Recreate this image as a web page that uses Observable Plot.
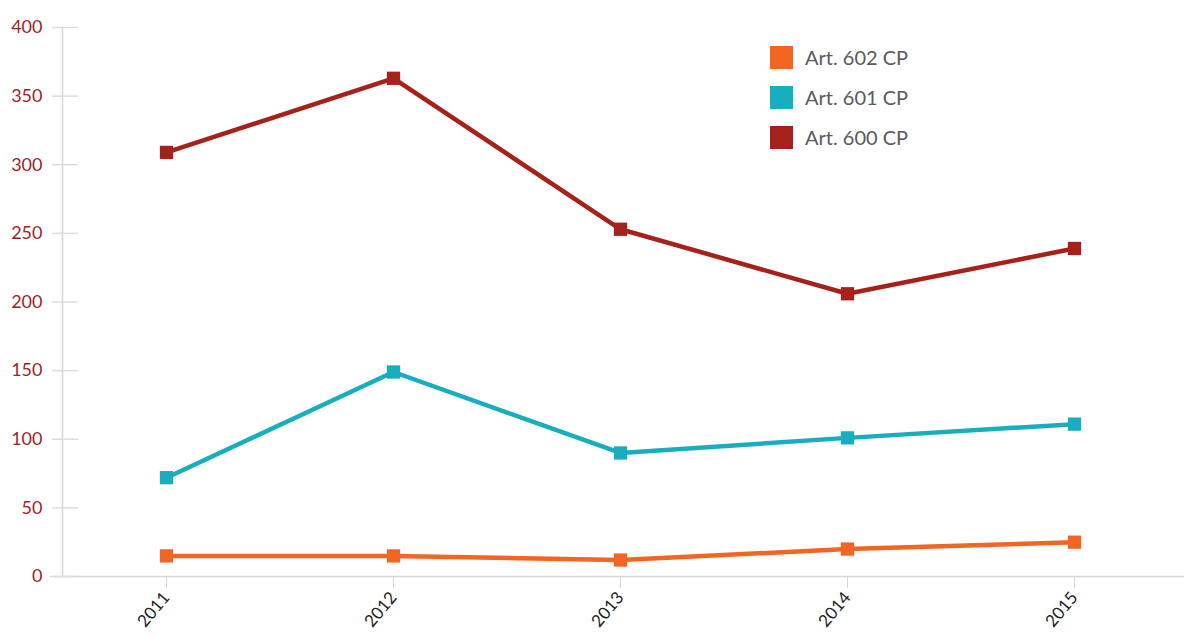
<!DOCTYPE html>
<html>
<head>
<meta charset="utf-8">
<script src="https://cdn.jsdelivr.net/npm/d3@7"></script>
<script src="https://cdn.jsdelivr.net/npm/@observablehq/plot@0.6"></script>
<style>
  html, body { margin: 0; padding: 0; background: #fff; }
  #wrap { position: relative; width: 1184px; height: 637px; font-family: Lato, "Open Sans", sans-serif; }
  #legend { position: absolute; left: 770px; top: 37px; }
  .item { display: flex; align-items: center; height: 40px; font-size: 20px; color: #5a5a5a; }
  .sw { width: 23px; height: 23px; margin-right: 12px; }
</style>
</head>
<body>
<div id="wrap"><div id="legend"></div></div>
<script>
const years = ["2011", "2012", "2013", "2014", "2015"];
const seriesNames = ["Art. 602 CP", "Art. 601 CP", "Art. 600 CP"];
const colors = ["#f26522", "#19aebe", "#a52119"];
const art602 = [15, 15, 12, 20, 25];
const art601 = [72, 149, 90, 101, 111];
const art600 = [309, 363, 253, 206, 239];
const yTicks = [0, 50, 100, 150, 200, 250, 300, 350, 400];

const seriesValues = [art602, art601, art600];
const data = [];
seriesNames.forEach((s, i) => years.forEach((y, j) => data.push({series: s, year: y, value: seriesValues[i][j]})));

const W = 1184, ML = 62, MR = 7;
const chart = Plot.plot({
  width: W,
  height: 637,
  marginLeft: ML,
  marginRight: MR,
  marginTop: 27,
  marginBottom: 61,
  style: {fontFamily: "Lato, 'Open Sans', sans-serif", background: "#fff"},
  x: {type: "point", domain: years, padding: 0.45},
  y: {domain: [0, 400]},
  color: {domain: seriesNames, range: colors},
  marks: [
    Plot.frame({anchor: "left", stroke: "#d6d6d6", strokeWidth: 1.5}),
    Plot.ruleY([0], {stroke: "#d6d6d6", strokeWidth: 1.5, insetLeft: -12, insetRight: -7}),
    Plot.tickY(yTicks, {y: d => d, stroke: "#dcdcdc", strokeWidth: 1.5, insetLeft: -10, insetRight: W - ML - MR - 16}),
    Plot.axisY({ticks: yTicks, tickSize: 0, tickPadding: 20, fill: "#a01f2a", fontSize: 18, tickFormat: d => d, label: null}),
    Plot.axisX({tickSize: 12, tickPadding: 6, stroke: "#d6d6d6", fill: "#222", fontSize: 17, tickRotate: -50, label: null}),
    Plot.line(data, {x: "year", y: "value", z: "series", stroke: "series", strokeWidth: 4.5}),
    Plot.dot(data, {x: "year", y: "value", fill: "series", symbol: "square", r: 7.5})
  ]
});
document.getElementById("wrap").prepend(chart);

const legend = document.getElementById("legend");
seriesNames.forEach((s, i) => {
  const row = document.createElement("div");
  row.className = "item";
  row.innerHTML = `<div class="sw" style="background:${colors[i]}"></div><span>${s}</span>`;
  legend.appendChild(row);
});
</script>
</body>
</html>
